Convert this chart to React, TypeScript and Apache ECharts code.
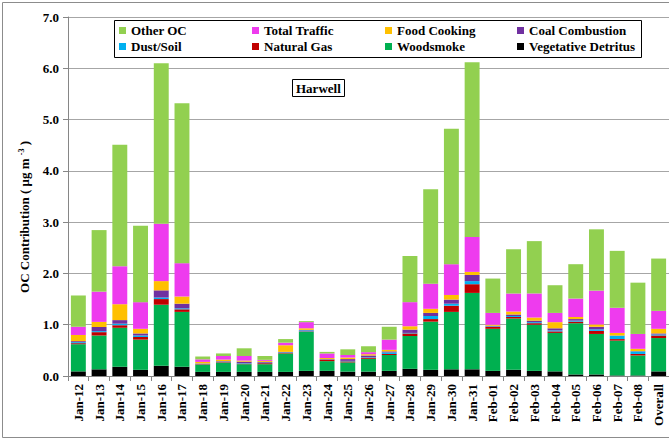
import React, { useEffect, useRef } from "react";
import * as echarts from "echarts";

const categories = [
  "Jan-12", "Jan-13", "Jan-14", "Jan-15", "Jan-16", "Jan-17", "Jan-18", "Jan-19", "Jan-20", "Jan-21",
  "Jan-22", "Jan-23", "Jan-24", "Jan-25", "Jan-26", "Jan-27", "Jan-28", "Jan-29", "Jan-30", "Jan-31",
  "Feb-01", "Feb-02", "Feb-03", "Feb-04", "Feb-05", "Feb-06", "Feb-07", "Feb-08", "Overall",
];

const vegetativeDetritus = [0.09, 0.13, 0.18, 0.12, 0.2, 0.18, 0.08, 0.08, 0.08, 0.08, 0.08, 0.1, 0.1, 0.085, 0.085, 0.1, 0.14, 0.12, 0.13, 0.13, 0.1, 0.12, 0.1, 0.09, 0.03, 0.03, 0.01, 0.01, 0.09];
const woodsmoke = [0.53, 0.66, 0.76, 0.59, 1.19, 1.07, 0.14, 0.18, 0.15, 0.15, 0.36, 0.76, 0.19, 0.18, 0.25, 0.31, 0.64, 0.94, 1.12, 1.49, 0.82, 1.0, 0.9, 0.75, 1.0, 0.79, 0.68, 0.39, 0.65];
const naturalGas = [0.02, 0.065, 0.05, 0.05, 0.11, 0.05, 0.01, 0.01, 0.01, 0.02, 0.01, 0.01, 0.03, 0.02, 0.02, 0.02, 0.05, 0.05, 0.12, 0.17, 0.04, 0.03, 0.03, 0.03, 0.03, 0.06, 0.03, 0.03, 0.05];
const dustSoil = [0.02, 0.02, 0.03, 0.03, 0.03, 0.02, 0.01, 0.01, 0.01, 0.01, 0.01, 0.02, 0.005, 0.01, 0.01, 0.03, 0.01, 0.06, 0.04, 0.06, 0.01, 0.02, 0.02, 0.02, 0.02, 0.03, 0.065, 0.05, 0.02];
const coalCombustion = [0.02, 0.08, 0.07, 0.04, 0.14, 0.09, 0.005, 0.01, 0.03, 0.015, 0.01, 0.01, 0.005, 0.035, 0.035, 0.02, 0.065, 0.06, 0.08, 0.12, 0.01, 0.03, 0.03, 0.04, 0.03, 0.05, 0.005, 0.005, 0.02];
const foodCooking = [0.12, 0.1, 0.31, 0.09, 0.18, 0.14, 0.03, 0.03, 0.02, 0.02, 0.13, 0.03, 0.02, 0.03, 0.025, 0.03, 0.065, 0.08, 0.09, 0.06, 0.02, 0.06, 0.06, 0.12, 0.04, 0.045, 0.05, 0.045, 0.09];
const totalTraffic = [0.16, 0.59, 0.74, 0.52, 1.12, 0.65, 0.05, 0.07, 0.09, 0.02, 0.05, 0.12, 0.09, 0.05, 0.04, 0.2, 0.47, 0.49, 0.6, 0.68, 0.23, 0.35, 0.47, 0.18, 0.36, 0.66, 0.49, 0.29, 0.35];
const otherOC = [0.61, 1.2, 2.37, 1.49, 3.13, 3.12, 0.055, 0.05, 0.15, 0.075, 0.07, 0.02, 0.03, 0.11, 0.115, 0.25, 0.9, 1.84, 2.64, 3.41, 0.67, 0.86, 1.02, 0.54, 0.67, 1.195, 1.11, 1.0, 1.02];

const yTicks = [0, 1, 2, 3, 4, 5, 6, 7];

const FONT = "'Liberation Serif', 'Times New Roman', serif";

export default function App() {
  const ref = useRef<HTMLDivElement>(null);

  useEffect(() => {
    const chart = echarts.init(ref.current!, null, { renderer: "svg" });

    const mk = (name: string, data: number[], color: string) => ({
      name,
      type: "bar",
      stack: "oc",
      data,
      barWidth: "72%",
      itemStyle: { color },
      emphasis: { disabled: true },
    });

    const legendText = {
      fontFamily: FONT,
      fontWeight: "bold",
      fontSize: 13,
      color: "#000",
      lineHeight: 13,
    };
    const legendBase = {
      orient: "vertical",
      top: 24,
      padding: 0,
      itemGap: 3,
      itemWidth: 7,
      itemHeight: 7,
      icon: "rect",
      selectedMode: false,
      textStyle: legendText,
    };

    chart.setOption({
      animation: false,
      backgroundColor: "#fff",
      grid: { left: 68, top: 17, width: 603, height: 359 },
      title: {
        text: "Harwell",
        left: 292,
        top: 79,
        padding: [3, 4, 2, 4],
        borderColor: "#000",
        borderWidth: 1,
        backgroundColor: "#fff",
        textStyle: { fontFamily: FONT, fontWeight: "bold", fontSize: 13, color: "#000" },
      },
      legend: [
        { ...legendBase, left: 119, data: ["Other OC", "Dust/Soil"] },
        { ...legendBase, left: 252, data: ["Total Traffic", "Natural Gas"] },
        { ...legendBase, left: 385, data: ["Food Cooking", "Woodsmoke"] },
        { ...legendBase, left: 517, data: ["Coal Combustion", "Vegetative Detritus"] },
      ],
      xAxis: {
        type: "category",
        data: categories,
        axisLine: { lineStyle: { color: "#868686" } },
        axisTick: { show: true, length: 5, alignWithLabel: false, lineStyle: { color: "#868686" } },
        axisLabel: {
          rotate: 90,
          interval: 0,
          margin: 8,
          fontFamily: FONT,
          fontWeight: "bold",
          fontSize: 13,
          color: "#000",
        },
      },
      yAxis: {
        type: "value",
        min: yTicks[0],
        max: yTicks[yTicks.length - 1],
        interval: 1,
        axisLine: { show: true, lineStyle: { color: "#868686" } },
        axisTick: { show: true, length: 5, lineStyle: { color: "#868686" } },
        splitLine: { lineStyle: { color: "#a6a6a6", width: 1 } },
        axisLabel: {
          margin: 9,
          fontFamily: FONT,
          fontWeight: "bold",
          fontSize: 13,
          color: "#000",
          formatter: (v: number) => v.toFixed(1),
        },
      },
      graphic: {
        elements: [
          {
            type: "rect",
            z: -10,
            shape: { x: 2.5, y: 2.5, width: 700, height: 435 },
            style: { fill: "none", stroke: "#8c8c8c", lineWidth: 1 },
          },
          {
            type: "rect",
            z: 3,
            shape: { x: 114.5, y: 20.5, width: 527, height: 37 },
            style: { fill: "#fff", stroke: "#000", lineWidth: 1 },
          },
          {
            type: "text",
            x: 24,
            y: 217,
            rotation: Math.PI / 2,
            style: {
              text: "{a|OC Contribution ( μg m }{s|-3}{a| )}",
              textAlign: "center",
              textVerticalAlign: "middle",
              align: "center",
              verticalAlign: "middle",
              rich: {
                a: { fontFamily: FONT, fontWeight: "bold", fontSize: 13, fill: "#000", color: "#000" },
                s: { fontFamily: FONT, fontWeight: "bold", fontSize: 8, fill: "#000", color: "#000", verticalAlign: "top", padding: [0, 0, 6, 0] },
              },
            },
          },
        ],
      },
      series: [
        mk("Vegetative Detritus", vegetativeDetritus, "#000000"),
        mk("Woodsmoke", woodsmoke, "#00B050"),
        mk("Natural Gas", naturalGas, "#C00000"),
        mk("Dust/Soil", dustSoil, "#00B0F0"),
        mk("Coal Combustion", coalCombustion, "#7030A0"),
        mk("Food Cooking", foodCooking, "#FFC000"),
        mk("Total Traffic", totalTraffic, "#EE3BEE"),
        mk("Other OC", otherOC, "#92D050"),
      ],
    });

    return () => chart.dispose();
  }, []);

  return (
    <div
      ref={ref}
      style={{ position: "fixed", left: 0, top: 0, width: 669, height: 441, background: "#fff" }}
    />
  );
}
